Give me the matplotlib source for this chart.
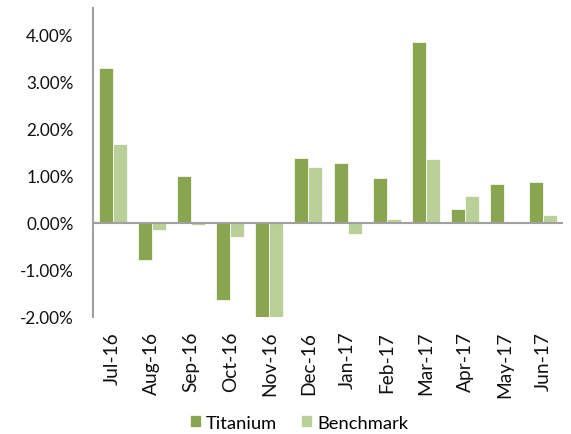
import numpy as np
import matplotlib.pyplot as plt
from matplotlib.ticker import FuncFormatter

months = ["Jul-16", "Aug-16", "Sep-16", "Oct-16", "Nov-16", "Dec-16",
          "Jan-17", "Feb-17", "Mar-17", "Apr-17", "May-17", "Jun-17"]
titanium = [3.29, -0.79, 0.98, -1.65, -2.20, 1.37, 1.26, 0.94, 3.83, 0.28, 0.83, 0.86]
benchmark = [1.67, -0.16, -0.04, -0.30, -2.10, 1.18, -0.23, 0.07, 1.35, 0.56, 0.00, 0.16]
yticks = [-2, -1, 0, 1, 2, 3, 4]

plt.rcParams['font.family'] = ['Lato', 'DejaVu Sans']

fig = plt.figure(figsize=(5.71, 4.35), dpi=100)
ax = fig.add_axes([0.163, 0.269, 0.823, 0.71])

x = np.arange(len(months))
w = 0.357
ax.bar(x - w / 2, titanium, w, color='#8AA550', edgecolor='white', linewidth=0.5,
       label='Titanium', zorder=2)
ax.bar(x + w / 2, benchmark, w, color='#BBCF98', edgecolor='white', linewidth=0.5,
       label='Benchmark', zorder=2)

ax.set_xlim(-0.5, len(months) - 0.5)
ax.set_ylim(-2, 4.55)
ax.set_yticks(yticks)
ax.yaxis.set_major_formatter(FuncFormatter(lambda v, p: f"{v:.2f}%"))
ax.axhline(0, color='#A0A0A0', linewidth=1.5, zorder=3)

for s in ['top', 'right', 'bottom']:
    ax.spines[s].set_visible(False)
ax.spines['left'].set_color('#A0A0A0')
ax.spines['left'].set_linewidth(1.5)

ax.set_xticks(x)
ax.set_xticklabels(months, rotation=90)
ax.tick_params(axis='x', length=0, pad=10, labelsize=13.8, colors='#111111')
ax.tick_params(axis='y', length=0, pad=14, labelsize=12.3, colors='#111111')

fig.legend(loc='lower center', bbox_to_anchor=(0.524, 0.008), ncol=2, frameon=False,
           fontsize=13.2, handlelength=0.6, handleheight=0.6, columnspacing=1.3,
           handletextpad=0.3, borderpad=0, borderaxespad=0)

fig.savefig('out.png', dpi=100)
